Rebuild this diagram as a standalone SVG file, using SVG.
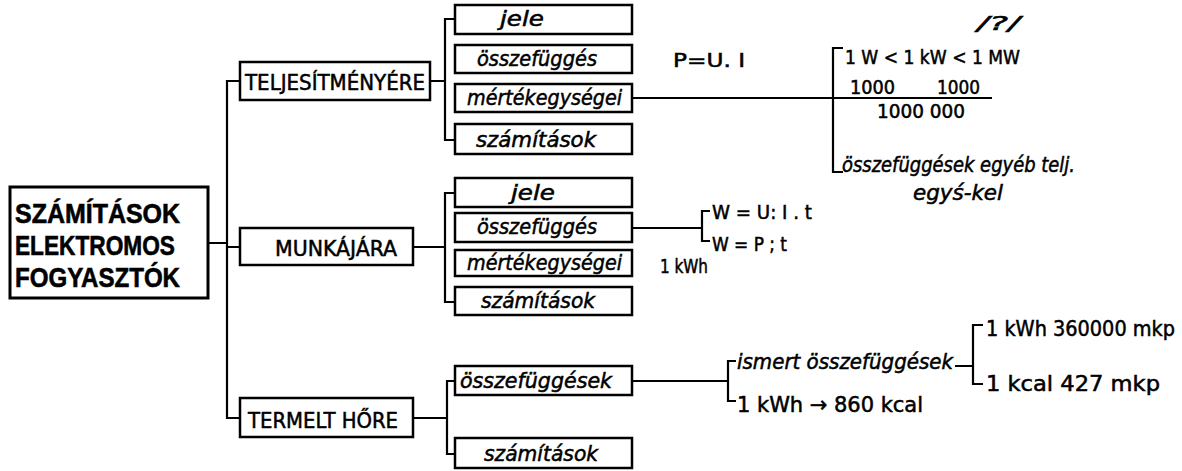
<svg xmlns="http://www.w3.org/2000/svg" width="1182" height="471" viewBox="0 0 1182 471">
<style>
.bx{fill:#fff;stroke:#000;stroke-width:2.5}
.ln{fill:none;stroke:#000;stroke-width:2.2}
.t{font-family:"DejaVu Sans Condensed","Liberation Sans Narrow","Liberation Sans",sans-serif;fill:#000;stroke:#000;stroke-width:0.5}
.it{font-style:italic}
.big{font-family:"Liberation Sans",sans-serif;font-weight:bold;font-size:28px;stroke-width:0.6}
.cap{font-size:22px}
.sub{font-size:22px}
.f{font-size:20px}
</style>
<rect width="1182" height="471" fill="#fff"/>
<g id="connectors">
<path class="ln" d="M208 243H227M240 81H227V418H240M227 247H240"/>
<path class="ln" d="M430 81H445M455 19H445V140H455"/>
<path class="ln" d="M413 247H445M455 193H445V302H455"/>
<path class="ln" d="M413 418H447M455 381H447V454H455"/>
<path class="ln" d="M632 98H992M843 48H833V172H843"/>
<path class="ln" d="M632 228H702M710 211H702V241H710"/>
<path class="ln" d="M632 381H728M736 361H728V401H736"/>
<path class="ln" d="M955 366H973M983 325H973V384H983"/>
</g>
<g id="main"><rect class="bx" x="10" y="187" width="198" height="111" style="stroke-width:3"/>
<text class="t big" x="15" y="223" textLength="165" lengthAdjust="spacingAndGlyphs">SZÁMÍTÁSOK</text>
<text class="t big" x="15" y="255" textLength="160" lengthAdjust="spacingAndGlyphs">ELEKTROMOS</text>
<text class="t big" x="15" y="287" textLength="165" lengthAdjust="spacingAndGlyphs">FOGYASZTÓK</text></g>
<g id="teljesitmenyere"><rect class="bx" x="240" y="62" width="190" height="38"/>
<text class="t cap" x="245" y="90" textLength="180" lengthAdjust="spacingAndGlyphs">TELJESÍTMÉNYÉRE</text></g>
<g id="munkajara"><rect class="bx" x="240" y="228" width="173" height="37"/>
<text class="t cap" x="275" y="256" textLength="122" lengthAdjust="spacingAndGlyphs">MUNKÁJÁRA</text></g>
<g id="termelt"><rect class="bx" x="240" y="398" width="173" height="39"/>
<text class="t cap" x="248" y="428" textLength="150" lengthAdjust="spacingAndGlyphs">TERMELT HŐRE</text></g>
<g id="t-jele"><rect class="bx" x="455" y="5" width="177" height="29"/>
<text class="t it sub" x="500" y="26" textLength="44" lengthAdjust="spacingAndGlyphs">jele</text></g>
<g id="t-ossz"><rect class="bx" x="455" y="45" width="177" height="28"/>
<text class="t it sub" x="477" y="66" textLength="120" lengthAdjust="spacingAndGlyphs">összefüggés</text></g>
<g id="t-mert"><rect class="bx" x="455" y="84" width="177" height="28"/>
<text class="t it sub" x="467" y="105" textLength="155" lengthAdjust="spacingAndGlyphs">mértékegységei</text></g>
<g id="t-szam"><rect class="bx" x="455" y="124" width="177" height="30"/>
<text class="t it sub" x="476" y="147" textLength="120" lengthAdjust="spacingAndGlyphs">számítások</text></g>
<g id="m-jele"><rect class="bx" x="455" y="178" width="177" height="29"/>
<text class="t it sub" x="511" y="200" textLength="44" lengthAdjust="spacingAndGlyphs">jele</text></g>
<g id="m-ossz"><rect class="bx" x="455" y="213" width="177" height="29"/>
<text class="t it sub" x="477" y="234" textLength="120" lengthAdjust="spacingAndGlyphs">összefüggés</text></g>
<g id="m-mert"><rect class="bx" x="455" y="250" width="177" height="26"/>
<text class="t it sub" x="467" y="270" textLength="155" lengthAdjust="spacingAndGlyphs">mértékegységei</text></g>
<g id="m-szam"><rect class="bx" x="455" y="287" width="177" height="28"/>
<text class="t it sub" x="481" y="308" textLength="114" lengthAdjust="spacingAndGlyphs">számítások</text></g>
<g id="h-ossz"><rect class="bx" x="455" y="366" width="177" height="29"/>
<text class="t it sub" x="460" y="388" textLength="152" lengthAdjust="spacingAndGlyphs">összefüggések</text></g>
<g id="h-szam"><rect class="bx" x="455" y="438" width="177" height="30"/>
<text class="t it sub" x="484" y="461" textLength="114" lengthAdjust="spacingAndGlyphs">számítások</text></g>
<g id="notes">
<text class="t f" x="673" y="67" textLength="72" lengthAdjust="spacingAndGlyphs">P=U. I</text>
<text class="t it f" x="977" y="30" textLength="43" lengthAdjust="spacingAndGlyphs">/?/</text>
<text class="t f" x="845" y="64" textLength="175" lengthAdjust="spacingAndGlyphs">1 W &lt; 1 kW &lt; 1 MW</text>
<text class="t f" x="850" y="94" textLength="45" lengthAdjust="spacingAndGlyphs">1000</text>
<text class="t f" x="937" y="94" textLength="43" lengthAdjust="spacingAndGlyphs">1000</text>
<text class="t f" x="877" y="118" textLength="88" lengthAdjust="spacingAndGlyphs">1000 000</text>
<text class="t it sub" x="842" y="172" textLength="233" lengthAdjust="spacingAndGlyphs">összefüggések egyéb telj.</text>
<text class="t it sub" x="913" y="200" textLength="90" lengthAdjust="spacingAndGlyphs">egyś-kel</text>
<text class="t f" x="712" y="219" textLength="100" lengthAdjust="spacingAndGlyphs">W = U: I . t</text>
<text class="t f" x="712" y="251" textLength="75" lengthAdjust="spacingAndGlyphs">W = P ; t</text>
<text class="t f" x="660" y="273" textLength="48" lengthAdjust="spacingAndGlyphs">1 kWh</text>
<text class="t it sub" x="737" y="369" textLength="216" lengthAdjust="spacingAndGlyphs">ismert összefüggések</text>
<text class="t sub" x="737" y="412" textLength="186" lengthAdjust="spacingAndGlyphs">1 kWh → 860  kcal</text>
<text class="t sub" x="986" y="336" textLength="189" lengthAdjust="spacingAndGlyphs">1 kWh  360000 mkp</text>
<text class="t sub" x="986" y="391" textLength="174" lengthAdjust="spacingAndGlyphs">1 kcal   427 mkp</text>
</g>
</svg>
